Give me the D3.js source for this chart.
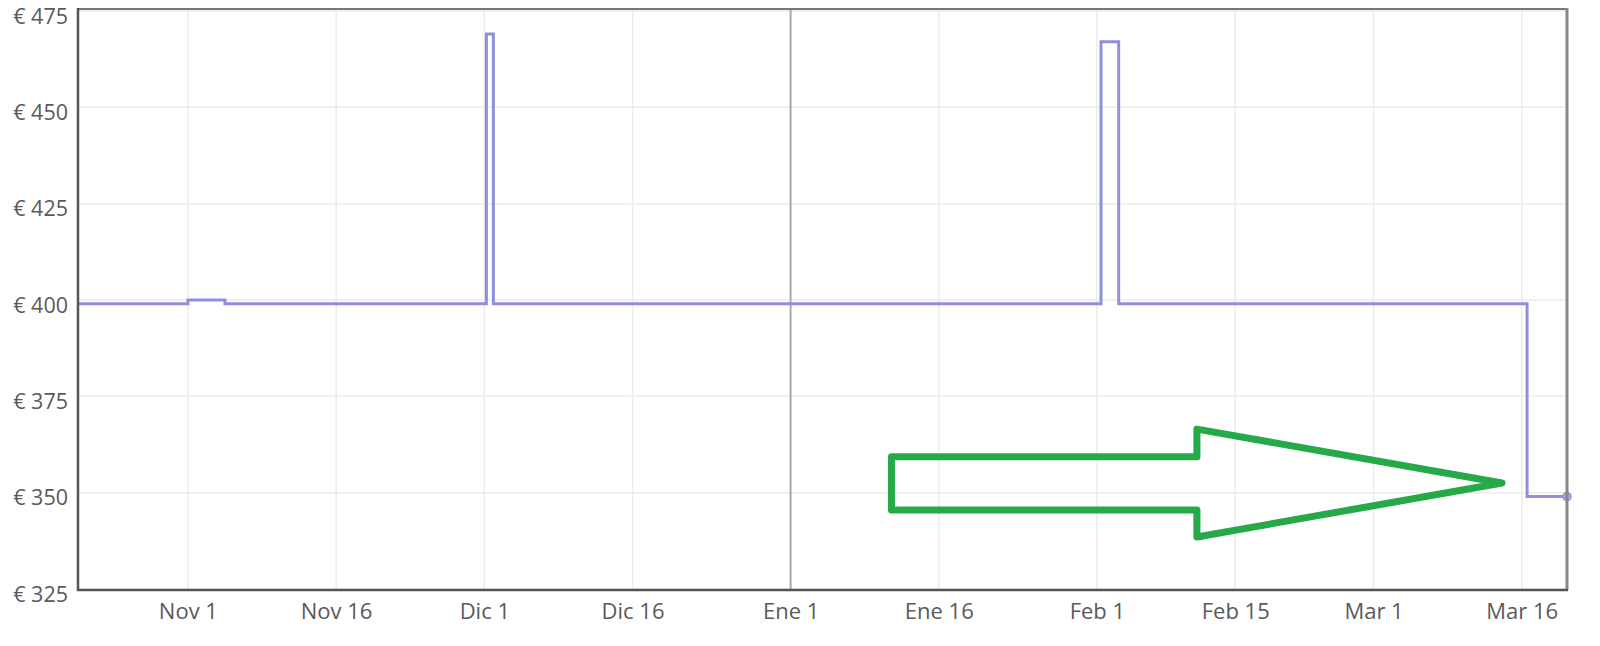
<!DOCTYPE html>
<html>
<head>
<meta charset="utf-8">
<script src="https://cdn.jsdelivr.net/npm/d3@7"></script>
<style>
  html, body { margin: 0; padding: 0; background: #fff; }
  svg { display: block; }
  text { font-family: "Open Sans", "Noto Sans", sans-serif; }
</style>
</head>
<body>
<svg id="chart" width="1600" height="646"></svg>
<script>
// ---- data ----
const dates  = ["2022-10-20T21:00Z","2022-11-01T00:00Z","2022-11-04T18:00Z","2022-12-01T05:00Z","2022-12-01T22:00Z","2023-02-01T10:00Z","2023-02-03T05:00Z","2023-03-16T13:00Z","2023-03-20T14:00Z"];
const prices = [399, 400, 399, 469, 399, 467, 399, 349, 349];

const xTickDates  = ["2022-11-01","2022-11-16","2022-12-01","2022-12-16","2023-01-01","2023-01-16","2023-02-01","2023-02-15","2023-03-01","2023-03-16"];
const xTickLabels = ["Nov 1","Nov 16","Dic 1","Dic 16","Ene 1","Ene 16","Feb 1","Feb 15","Mar 1","Mar 16"];
const yTicks = [325, 350, 375, 400, 425, 450, 475];

// annotation arrow (in data coordinates: date, price)
const arrowDates  = ["2023-01-11T05:00Z","2023-02-11T03:00Z","2023-02-11T03:00Z","2023-03-14T00:00Z","2023-02-11T03:00Z","2023-02-11T03:00Z","2023-01-11T05:00Z"];
const arrowPrices = [359.3, 359.3, 366.5, 352.5, 338.5, 345.5, 345.5];

// ---- layout ----
const svg = d3.select("#chart");
const L = 78, R = 1567, T = 10, B = 589;

const parse = s => new Date(s.length > 10 ? s : s + "T00:00:00Z");
const pts = dates.map((d, i) => ({ d: parse(d), v: prices[i] }));

const x = d3.scaleUtc()
  .domain([parse(dates[0]), parse(dates[dates.length - 1])])
  .range([L, R]);
const y = d3.scaleLinear().domain([325, 475]).range([B, 11]);

// gridlines
const g = svg.append("g");
g.selectAll(".hg").data(yTicks).enter().append("line")
  .attr("x1", L).attr("x2", R)
  .attr("y1", d => y(d)).attr("y2", d => y(d))
  .attr("stroke", "#ececec").attr("stroke-width", 1.5);

const xt = xTickDates.map(parse);
g.selectAll(".vg").data(xt).enter().append("line")
  .attr("x1", d => x(d)).attr("x2", d => x(d))
  .attr("y1", T).attr("y2", B)
  .attr("stroke", (d, i) => xTickLabels[i] === "Ene 1" ? "#aaaaaa" : "#ececec")
  .attr("stroke-width", (d, i) => xTickLabels[i] === "Ene 1" ? 2 : 1.5);

// axes via d3
const xAxis = d3.axisBottom(x).tickValues(xt)
  .tickFormat((d, i) => xTickLabels[i]).tickSize(0).tickPadding(14);
const ax = svg.append("g").attr("transform", `translate(0,${B})`).call(xAxis);
ax.select(".domain").remove();
ax.selectAll("text").attr("font-size", 22).attr("fill", "#5a5a5a")
  .attr("font-family", "'Open Sans', 'Noto Sans', sans-serif");

const yAxis = d3.axisLeft(y).tickValues(yTicks)
  .tickFormat(d => "€ " + d).tickSize(0).tickPadding(10);
const ay = svg.append("g").attr("transform", `translate(${L},0)`).call(yAxis);
ay.select(".domain").remove();
ay.selectAll("text").attr("font-size", 21.5).attr("fill", "#5a5a5a")
  .attr("dy", "0.56em")
  .attr("font-family", "'Open Sans', 'Noto Sans', sans-serif");

// price line
const line = d3.line().curve(d3.curveStepAfter).x(p => x(p.d)).y(p => y(p.v));
svg.append("path").datum(pts).attr("d", line)
  .attr("fill", "none").attr("stroke", "#9090da").attr("stroke-width", 3);

const last = pts[pts.length - 1];
svg.append("circle").attr("cx", x(last.d)).attr("cy", y(last.v)).attr("r", 4)
  .attr("fill", "#a9a9e6").attr("stroke", "#9090da").attr("stroke-width", 1.5);

// frame
svg.append("line").attr("x1", L).attr("x2", R).attr("y1", 9).attr("y2", 9)
  .attr("stroke", "#777").attr("stroke-width", 2);
svg.append("line").attr("x1", R).attr("x2", R).attr("y1", 8).attr("y2", B + 1)
  .attr("stroke", "#888").attr("stroke-width", 3);
svg.append("line").attr("x1", L).attr("x2", L).attr("y1", 8).attr("y2", B + 2)
  .attr("stroke", "#555").attr("stroke-width", 2.5);
svg.append("line").attr("x1", L - 1).attr("x2", R + 1).attr("y1", B + 1).attr("y2", B + 1)
  .attr("stroke", "#555").attr("stroke-width", 2.5);

// annotation arrow
const arrowPts = arrowDates.map((d, i) => [x(parse(d)), y(arrowPrices[i])]);
svg.append("path")
  .attr("d", d3.line()(arrowPts) + "Z")
  .attr("fill", "none").attr("stroke", "#25a949").attr("stroke-width", 7)
  .attr("stroke-linejoin", "round");
</script>
</body>
</html>
